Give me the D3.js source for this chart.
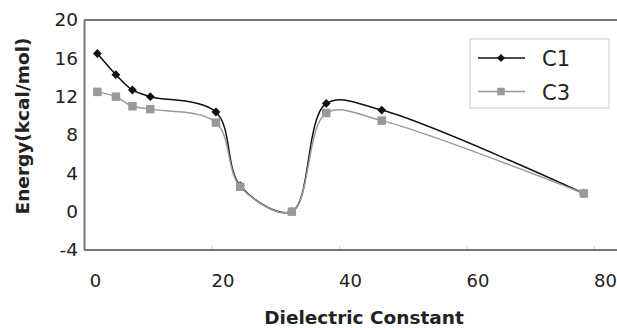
<!DOCTYPE html>
<html>
<head>
<meta charset="utf-8">
<script src="https://cdn.jsdelivr.net/npm/d3@7"></script>
<style>
  body { margin: 0; background: #fff; }
  text { font-family: "DejaVu Sans", sans-serif; fill: #222; }
</style>
</head>
<body>
<div id="chart"></div>
<script>
// Chart values
//=====================================================================
var dielectric = [2.1, 5.0, 7.6, 10.4, 20.7, 24.5, 32.6, 38.0, 46.7, 78.4];
var c1Energy = [16.5, 14.3, 12.7, 12.0, 10.4, 2.7, 0.0, 11.3, 10.6, 1.9];
var c3Energy = [12.5, 12.0, 11.0, 10.7, 9.3, 2.6, 0.0, 10.3, 9.5, 1.9];
var seriesNames = ["C1", "C3"];
var xTicks = [0, 20, 40, 60, 80];
var yTicks = [-4, 0, 4, 8, 12, 16, 20];

// Set up sizes
//=====================================================================
var svgWidth = 617;
var svgHeight = 328;

var margin = { top: 20, right: 23, bottom: 78, left: 84 };
var width = svgWidth - margin.left - margin.right;   // 0..80 span
var height = svgHeight - margin.top - margin.bottom;

var svg = d3.select("#chart")
    .append("svg")
    .attr("width", svgWidth)
    .attr("height", svgHeight);

var chartGroup = svg.append("g")
    .attr("transform", `translate(${margin.left}, ${margin.top})`);

// Scales
// ==============================
var xScale = d3.scaleLinear().domain([0, 80]).range([0, width]);
var yScale = d3.scaleLinear().domain([-4, 20]).range([height, 0]);

// Frame line on top (plot runs off the right edge of the picture)
chartGroup.append("line")
    .attr("x1", 0).attr("x2", svgWidth - margin.left)
    .attr("y1", 0).attr("y2", 0)
    .attr("stroke", "#777").attr("stroke-width", 2);

// Axes
// ==============================
var bottomAxis = d3.axisBottom(xScale)
    .tickValues(xTicks)
    .tickSize(-4)
    .tickPadding(24)
    .tickFormat(d => String(d));

var xAxisG = chartGroup.append("g")
    .attr("transform", `translate(0, ${height})`)
    .call(bottomAxis);
xAxisG.select(".domain").remove();
xAxisG.selectAll(".tick line").attr("stroke", "#ccc");
xAxisG.selectAll(".tick text")
    .attr("dx", 11)
    .style("font-size", "18px")
    .style("fill", "#222");
xAxisG.append("line")
    .attr("x1", 0).attr("x2", svgWidth - margin.left)
    .attr("y1", 0).attr("y2", 0)
    .attr("stroke", "#777").attr("stroke-width", 2);

var leftAxis = d3.axisLeft(yScale)
    .tickValues(yTicks)
    .tickSize(0)
    .tickPadding(6)
    .tickFormat(d => String(d));

var yAxisG = chartGroup.append("g").call(leftAxis);
yAxisG.select(".domain")
    .attr("stroke", "#777").attr("stroke-width", 2);
yAxisG.selectAll(".tick text")
    .style("font-size", "18.5px")
    .style("fill", "#222");

// Lines and markers
// ==============================
var seriesData = [
    { name: seriesNames[0], values: c1Energy, color: "#111", marker: d3.symbolDiamond2, size: 50 },
    { name: seriesNames[1], values: c3Energy, color: "#999", marker: d3.symbolSquare, size: 72 }
];

var line = d3.line()
    .x(d => xScale(d[0]))
    .y(d => yScale(d[1]))
    .curve(d3.curveCatmullRom.alpha(0.5));

seriesData.forEach(function (s) {
    var pts = dielectric.map((x, i) => [x, s.values[i]]);

    chartGroup.append("path")
        .datum(pts)
        .attr("d", line)
        .attr("fill", "none")
        .attr("stroke", s.color)
        .attr("stroke-width", 1.5);

    chartGroup.append("g")
        .selectAll("path")
        .data(pts)
        .enter()
        .append("path")
        .attr("d", d3.symbol().type(s.marker).size(s.size))
        .attr("transform", d => `translate(${xScale(d[0])}, ${yScale(d[1])})`)
        .attr("fill", s.color);
});

// Legend
// ==============================
var legend = svg.append("g").attr("transform", "translate(470, 39)");

legend.append("rect")
    .attr("width", 139).attr("height", 69)
    .attr("fill", "#fff")
    .attr("stroke", "#ccc");

seriesData.forEach(function (s, i) {
    var ly = 19 + i * 33.5;
    legend.append("line")
        .attr("x1", 8).attr("x2", 55)
        .attr("y1", ly).attr("y2", ly)
        .attr("stroke", s.color).attr("stroke-width", 1.5);
    legend.append("path")
        .attr("d", d3.symbol().type(s.marker).size(s.size * 0.8))
        .attr("transform", `translate(31, ${ly})`)
        .attr("fill", s.color);
    legend.append("text")
        .attr("x", 72)
        .attr("y", ly + 8)
        .style("font-size", "21px")
        .text(s.name);
});

// Axis titles
// ==============================
svg.append("text")
    .attr("transform", "rotate(-90)")
    .attr("x", -126)
    .attr("y", 29)
    .attr("text-anchor", "middle")
    .style("font-size", "18.5px")
    .style("font-weight", "bold")
    .text("Energy(kcal/mol)");

svg.append("text")
    .attr("x", 364)
    .attr("y", 324)
    .attr("text-anchor", "middle")
    .style("font-size", "18.5px")
    .style("font-weight", "bold")
    .text("Dielectric Constant");
</script>
</body>
</html>
